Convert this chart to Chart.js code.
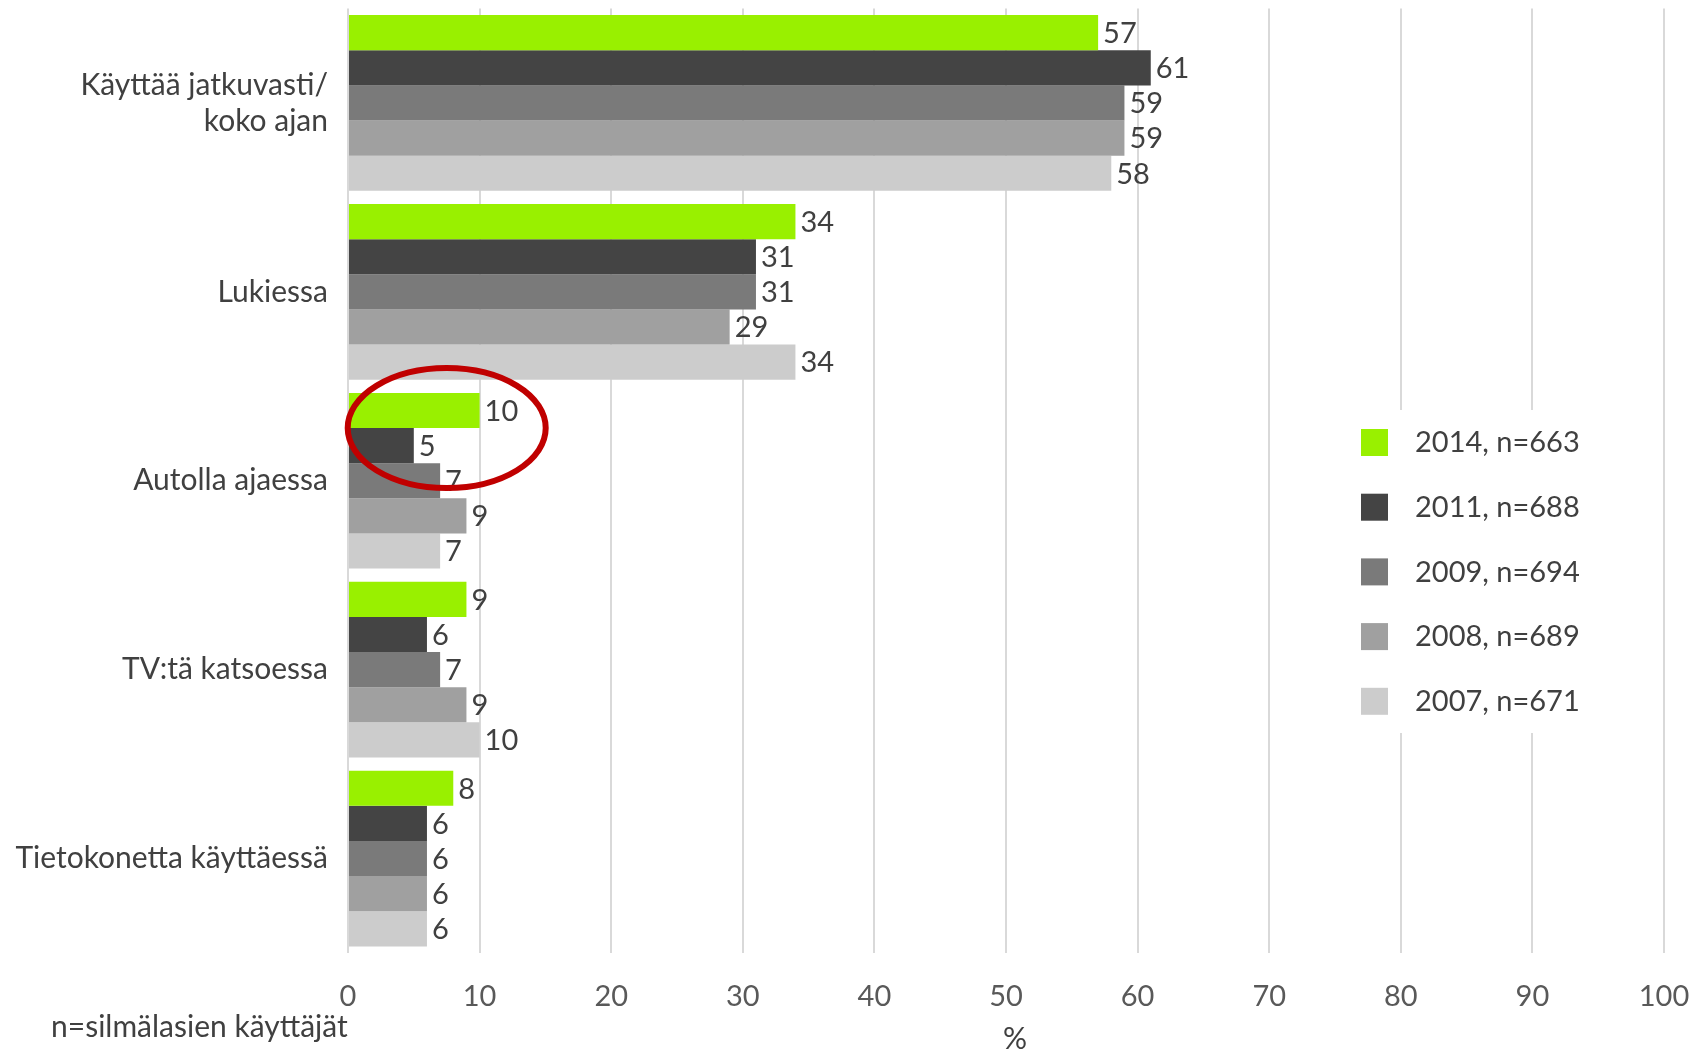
<!DOCTYPE html>
<html>
<head>
<meta charset="utf-8">
<script src="https://cdn.jsdelivr.net/npm/chart.js@4/dist/chart.umd.min.js"></script>
<style>
html,body{margin:0;padding:0;background:#fff;}
#wrap{width:1702px;height:1051px;position:relative;}
</style>
</head>
<body>
<div id="wrap"><canvas id="c" width="1702" height="1051"></canvas></div>
<script>
const categories = [["Käyttää jatkuvasti/", "koko ajan"], "Lukiessa", "Autolla ajaessa", "TV:tä katsoessa", "Tietokonetta käyttäessä"];
const seriesLabels = ["2014, n=663", "2011, n=688", "2009, n=694", "2008, n=689", "2007, n=671"];
const v2014 = [57, 34, 10, 9, 8];
const v2011 = [61, 31, 5, 6, 6];
const v2009 = [59, 31, 7, 7, 6];
const v2008 = [59, 29, 9, 9, 6];
const v2007 = [58, 34, 7, 10, 6];
const xTicks = [0, 10, 20, 30, 40, 50, 60, 70, 80, 90, 100];
const footnote = "n=silmälasien käyttäjät";
const axisUnit = "%";

const colors = ["#99F000", "#444444", "#7A7A7A", "#A0A0A0", "#CCCCCC"];
const FONT = "Lato, 'Liberation Sans', sans-serif";
const FS = 29;

const labelPlugin = {
  id: 'labels',
  afterDatasetsDraw(chart) {
    const ctx = chart.ctx;
    ctx.save();
    ctx.font = FS + "px " + FONT;
    ctx.fillStyle = "#404040";
    ctx.textBaseline = "middle";
    ctx.textAlign = "left";
    chart.data.datasets.forEach((ds, i) => {
      const meta = chart.getDatasetMeta(i);
      meta.data.forEach((bar, j) => {
        ctx.fillText(String(ds.data[j]), bar.x + 5, bar.y + 1);
      });
    });
    ctx.restore();
  },
  afterDraw(chart) {
    const ctx = chart.ctx;
    const xs = chart.scales.x;
    ctx.save();
    // legend
    ctx.fillStyle = "#fff";
    ctx.fillRect(1340, 410, 300, 323);
    ctx.font = FS + "px " + FONT;
    ctx.textBaseline = "middle";
    ctx.textAlign = "left";
    chart.data.datasets.forEach((ds, i) => {
      const top = 429 + i * 64.7;
      ctx.fillStyle = ds.backgroundColor;
      ctx.fillRect(1361, top, 27, 27);
      ctx.fillStyle = "#404040";
      ctx.fillText(ds.label, 1415, top + 14);
    });
    // footnote & unit
    ctx.fillStyle = "#404040";
    ctx.font = "30px " + FONT;
    ctx.fillText(footnote, 51, 1027);
    ctx.textAlign = "center";
    ctx.fillText(axisUnit, 1015, 1039);
    // highlight ellipse
    const m0 = chart.getDatasetMeta(0).data[2];
    const m1 = chart.getDatasetMeta(1).data[2];
    const cx = xs.getPixelForValue(7.5);
    const cy = (m0.y + m1.y) / 2;
    ctx.beginPath();
    ctx.ellipse(cx, cy, 99, 60, 0, 0, Math.PI * 2);
    ctx.strokeStyle = "#C00000";
    ctx.lineWidth = 6;
    ctx.stroke();
    ctx.restore();
  }
};

const datasets = [v2014, v2011, v2009, v2008, v2007].map((d, i) => ({
  label: seriesLabels[i],
  data: d,
  backgroundColor: colors[i],
  borderWidth: 0,
  barPercentage: 1,
  categoryPercentage: 0.93
}));

new Chart(document.getElementById('c'), {
  type: 'bar',
  data: { labels: categories, datasets },
  options: {
    indexAxis: 'y',
    responsive: false,
    animation: false,
    layout: { padding: { top: 8.5, right: 38, left: 0, bottom: 0 } },
    plugins: { legend: { display: false }, tooltip: { enabled: false } },
    scales: {
      x: {
        min: 0, max: 100,
        afterBuildTicks(scale) { scale.ticks = xTicks.map(v => ({ value: v })); },
        afterFit(scale) { scale.height = 98; scale.paddingLeft = 0; scale.paddingRight = 0; },
        grid: { color: "#D9D9D9", lineWidth: 2, drawTicks: false },
        border: { display: false },
        ticks: { color: "#595959", font: { family: FONT, size: FS }, padding: 26 }
      },
      y: {
        afterFit(scale) { scale.width = 348; scale.paddingTop = 0; scale.paddingBottom = 0; },
        grid: { display: false, drawTicks: false },
        border: { display: false },
        ticks: { color: "#404040", font: { family: FONT, size: 30, lineHeight: 1.2 }, padding: 20 }
      }
    }
  },
  plugins: [labelPlugin]
});
</script>
</body>
</html>
